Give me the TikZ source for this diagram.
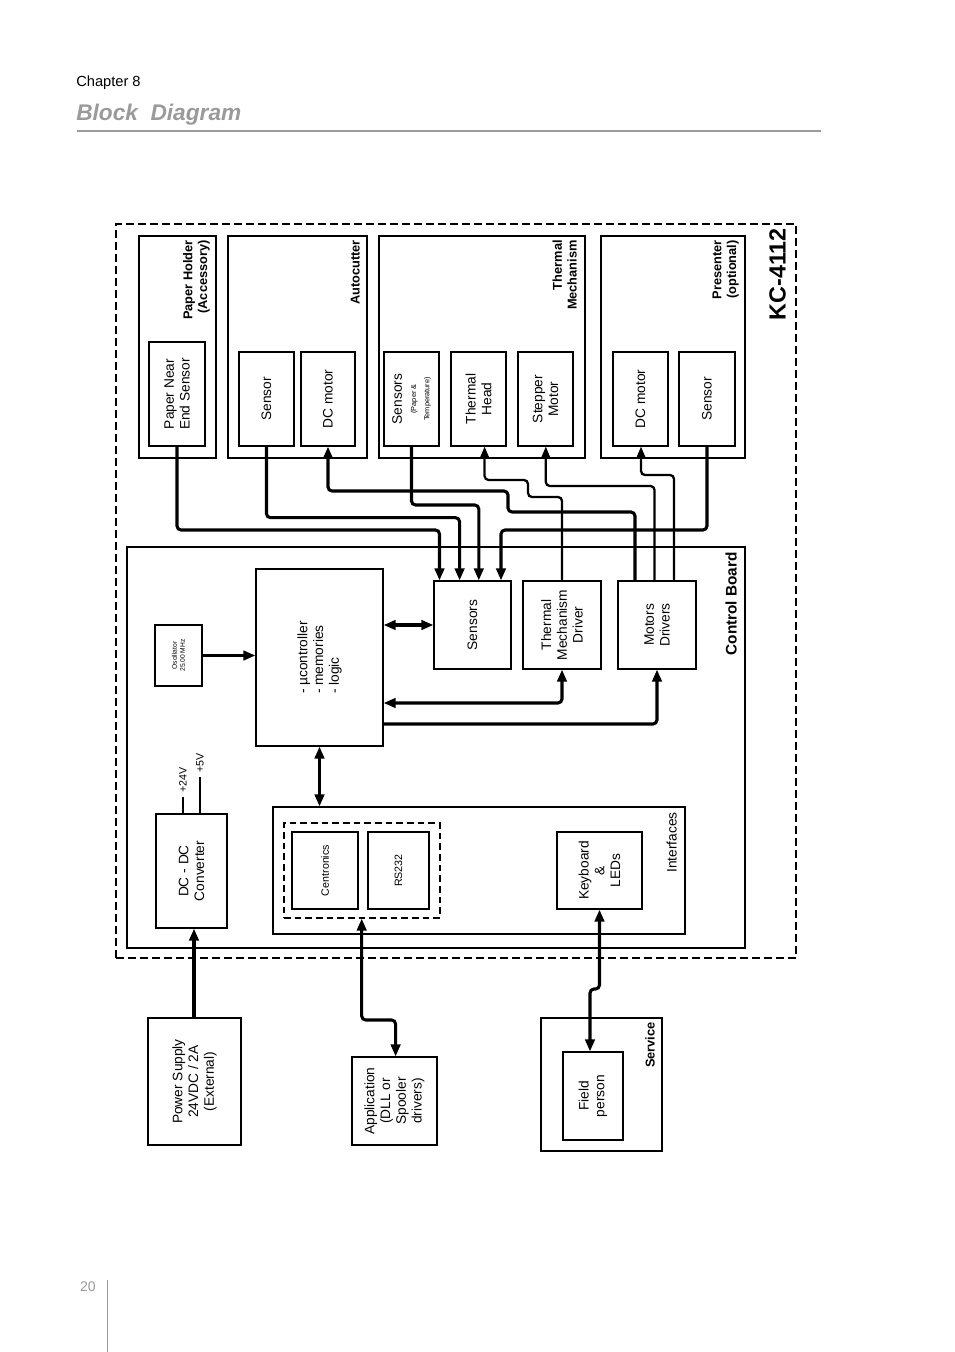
\documentclass[tikz,border=0pt]{standalone}
\usepackage{fontspec}
\setmainfont{Liberation Sans}
\usetikzlibrary{arrows.meta}
\definecolor{hdr}{HTML}{9A9A9A}
\newcommand\bx[6][box]{\node[#1, minimum width={(#5-#3)*0.75pt}, minimum height={(#6-#4)*0.75pt}] (#2) at ({(#3+#5)/2},{-(#4+#6)/2}) {};}
\tikzset{
  box/.style={draw, line width=0.8pt, inner sep=0pt},
  dbox/.style={draw, line width=0.8pt, dash pattern=on 5pt off 3pt, inner sep=0pt},
  lbl/.style={rotate=90, align=center, font=\fontsize{10.3}{11.8}\selectfont},
  grp/.style={rotate=90, align=right, font=\bfseries\fontsize{9.6}{11}\selectfont, anchor=south east, inner sep=0pt},
  tp/.style={-{Triangle[length=9pt,width=7pt]}},
  tpb/.style={{Triangle[length=9pt,width=7pt]}-{Triangle[length=9pt,width=7pt]}},
  tpr/.style={{Triangle[length=9pt,width=7pt]}-},
  thk/.style={line width=2.3pt, rounded corners=3pt},
  med/.style={line width=1.7pt, rounded corners=3pt},
}
\begin{document}
\begin{tikzpicture}[x=0.75pt,y=0.75pt]
\useasboundingbox (0,0) rectangle (954,-1352);
% header
\node[anchor=west, inner sep=0pt, font=\fontsize{11}{13}\selectfont] (chap) at (76,-83) {Chapter 8};
\node[anchor=west, inner sep=0pt, text=hdr, font=\bfseries\itshape\fontsize{17}{20}\selectfont] (title) at (76,-115) {Block\ \ Diagram};
\draw[hdr, line width=0.8pt] (77,-131) -- (821,-131);
\node[anchor=east, inner sep=0pt, text=hdr, font=\fontsize{10.5}{12}\selectfont] (pg) at (96,-1287) {20};
\draw[hdr, line width=0.6pt] (107,-1280) -- (107,-1352);
% KC frame
\bx[dbox,line width=1.7pt,dash pattern=on 6pt off 3pt]{kc}{116}{224}{796}{958}
\node[rotate=90, anchor=south east, inner sep=0pt, font=\bfseries\fontsize{17.5}{20}\selectfont] (kct) at (786,-228) {KC-4112};
% top groups
\bx{ph}{139}{236}{216}{458}
\node[grp] (pht) at (210,-240) {Paper Holder\\(Accessory)};
\bx{pnes}{149}{342}{205}{446}
\node[lbl] at (pnes) {Paper Near\\End Sensor};
\bx{ac}{228}{236}{367}{458}
\node[grp] (act) at (360,-240) {Autocutter};
\bx{acs}{239}{352}{294}{446}
\node[lbl] at (acs) {Sensor};
\bx{acm}{301}{352}{355}{446}
\node[lbl] at (acm) {DC motor};
\bx{tm}{379}{236}{585}{458}
\node[grp] (tmt) at (577,-240) {Thermal\\Mechanism};
\bx{tms}{384}{352}{439}{446}
\node[lbl] at (tms) {Sensors\\[-1pt]{\fontsize{5.5}{6.5}\selectfont (Paper \&}\\[-2pt]{\fontsize{5.5}{6.5}\selectfont Temperature)}};
\bx{thd}{451}{352}{506}{446}
\node[lbl] at (thd) {Thermal\\Head};
\bx{stp}{518}{352}{573}{446}
\node[lbl] at (stp) {Stepper\\Motor};
\bx{pr}{601}{236}{745}{458}
\node[grp] (prt) at (739,-240) {Presenter\\(optional)};
\bx{pdc}{613}{352}{668}{446}
\node[lbl] at (pdc) {DC motor};
\bx{psn}{679}{352}{735}{446}
\node[lbl] at (psn) {Sensor};
% control board
\bx{cb}{127}{547}{745}{948}
\node[grp, font=\bfseries\fontsize{11.5}{13}\selectfont] (cbt) at (737,-552) {Control Board};
\bx{uc}{256}{569}{383}{746}
\node[lbl, align=left] at (uc) {- µcontroller\\- memories\\- logic};
\bx{osc}{155}{625}{202}{686}
\node[lbl, font=\fontsize{5}{6}\selectfont] at (osc) {Oscillator\\25.00 MHz};
\bx{sensb}{434}{581}{511}{669}
\node[lbl] at (sensb) {Sensors};
\bx{tmd}{523}{581}{601}{669}
\node[lbl] at (tmd) {Thermal\\Mechanism\\Driver};
\bx{md}{618}{581}{696}{669}
\node[lbl] at (md) {Motors\\Drivers};
\bx{dcdc}{156}{814}{227}{928}
\node[lbl] at (dcdc) {DC - DC\\Converter};
\bx{intf}{273}{807}{685}{934}
\node[rotate=90, anchor=south east, inner sep=0pt, font=\fontsize{10.3}{11.8}\selectfont] (intft) at (677,-812) {Interfaces};
\bx[dbox]{ifd}{284}{823}{440}{918}
\bx{cen}{292}{832}{358}{909}
\node[lbl, font=\fontsize{8}{9.5}\selectfont] at (cen) {Centronics};
\bx{rs}{368}{832}{429}{909}
\node[lbl, font=\fontsize{8}{9.5}\selectfont] at (rs) {RS232};
\bx{kb}{557}{832}{642}{909}
\node[lbl] at (kb) {Keyboard\\\&\\LEDs};
\draw[line width=1.6pt] (183,0 |- dcdc.north) -- (183,-797);
\draw[line width=1.6pt] (200,0 |- dcdc.north) -- (200,-777);
\node[rotate=90, anchor=west, inner sep=0pt, font=\fontsize{8}{9.5}\selectfont] (v24) at (183,-793) {+24V};
\node[rotate=90, anchor=west, inner sep=0pt, font=\fontsize{8}{9.5}\selectfont] (v5) at (200,-773) {+5V};
% bottom boxes
\bx{pws}{148}{1018}{241}{1145}
\node[lbl] at (pws) {Power Supply\\24VDC / 2A\\(External)};
\bx{app}{352}{1057}{437}{1145}
\node[lbl] at (app) {Application\\(DLL or\\Spooler\\drivers)};
\bx{srv}{541}{1018}{662}{1151}
\node[grp] (srvt) at (655,-1022) {Service};
\bx{fp}{563}{1052}{623}{1140}
\node[lbl] at (fp) {Field\\person};
% connectors top
\draw[thk,tp] (pnes.south) |- (439.5,-530) -- (439.5,0 |- sensb.north);
\draw[thk,tp] (acs.south) |- (459.6,-517.7) -- (459.6,0 |- sensb.north);
\draw[thk,tp] (tms.south) |- (478.8,-505) -- (478.8,0 |- sensb.north);
\draw[thk,tp] (psn.south) |- (501,-530) -- (501,0 |- sensb.north);
\draw[thk,tpr] (acm.south) -- (328,-491) -- (508,-491) -- (508,-512) -- (635,-512) -- (635,0 |- md.north);
\draw[med,tpr] (484.6,0 |- thd.south) -- (484.6,-480) -- (528,-480) -- (528,-497) -- (562,-497) -- (562,0 |- tmd.north);
\draw[med,tpr] (545.8,0 |- stp.south) -- (545.8,-486) -- (654.5,-486) -- (654.5,0 |- md.north);
\draw[med,tpr] (641,0 |- pdc.south) -- (641,-475) -- (674,-475) -- (674,0 |- md.north);
% internal
\draw[thk,tp] (osc.east) -- (osc.east -| uc.west);
\draw[thk,tpb] (uc.east |- 0,-625) -- (sensb.west |- 0,-625);
\draw[thk,tpb] (uc.east |- 0,-703) -| (tmd.south);
\draw[thk,tp] (uc.east |- 0,-724) -| (md.south);
\draw[thk,tpb] (uc.south) -- (uc.south |- intf.north);
% external
\draw[thk,tp] (194,0 |- pws.north) -- (194,0 |- dcdc.south);
\draw[thk,tpb] (395.6,0 |- app.north) -- (395.6,-1020) -- (361.7,-1020) -- (361.7,0 |- ifd.south);
\draw[thk,tpb] (kb.south) -- (599.5,-989) -- (590,-989) -- (590,0 |- fp.north);
\end{tikzpicture}
\end{document}
